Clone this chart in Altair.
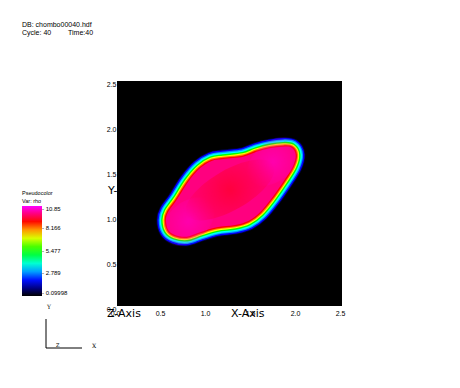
import altair as alt
import pandas as pd

# ---- data ----------------------------------------------------------------
# inner edge (pink / red boundary) of the rho blob, in axis units
inner_x = [0.544, 0.570, 0.644, 0.774, 0.922, 1.108, 1.311, 1.459, 1.589, 1.719,
           1.848, 1.952, 1.986, 1.941, 1.848, 1.700, 1.552, 1.403, 1.181, 1.052,
           0.922, 0.792, 0.663, 0.570]
inner_y = [0.956, 0.844, 0.789, 0.770, 0.819, 0.874, 0.900, 0.944, 1.041, 1.197,
           1.381, 1.548, 1.678, 1.759, 1.770, 1.752, 1.714, 1.659, 1.633, 1.611,
           1.530, 1.381, 1.178, 1.048]

# rho of the falloff bands around the blob (outer -> inner) and their stroke widths
rim_rho = [0.6, 1.9, 3.0, 3.7, 5.48, 7.27, 8.2, 9.06]
rim_width = [19, 17.4, 14.6, 12.4, 9.6, 6.8, 4.6, 2.6]
core_rho = 9.95
background_rho = 0.09998

# colour table (VisIt-like): value stops and colours
stop_values = [0.09998, 1.89, 3.68, 5.477, 7.27, 9.06, 10.85]
stop_colors = ["#000000", "#0000ff", "#00ffff", "#00ff00", "#ffff00", "#ff0000", "#ff00ff"]
tick_values = [0.09998, 2.789, 5.477, 8.166, 10.85]
axis_ticks = [0.0, 0.5, 1.0, 1.5, 2.0, 2.5]

# internal shading spots: centre (red) and the two ends (magenta)
spot_x = [1.256, 0.792, 1.737]
spot_y = [1.289, 0.937, 1.604]

FONT = "Liberation Sans"

xs = alt.Scale(domain=[0, 2.5], nice=False, zero=False)
ys = alt.Scale(domain=[0, 2.5], nice=False, zero=False)
xaxis = alt.Axis(values=axis_ticks, format=".1f", title=None, domain=False, ticks=False,
                 grid=False, labelFontSize=7, labelFont=FONT, labelColor="#000",
                 labelPadding=3, labelOffset=-2, labelFlush=False, labelOverlap=False)
yaxis = alt.Axis(values=axis_ticks, format=".1f", title=None, domain=False, ticks=False,
                 grid=False, labelFontSize=7, labelFont=FONT, labelColor="#000",
                 labelPadding=1, labelOffset=3, labelFlush=False, labelOverlap=False)

color_scale = alt.Scale(domain=stop_values, range=stop_colors, interpolate="rgb")
legend = alt.Legend(type="gradient", orient="none", legendX=-95, legendY=110,
                    direction="vertical",
                    title=["Pseudocolor", "Var: rho"], titleFontSize=5.5, titleFont=FONT,
                    titleFontWeight="normal", titleColor="#000", titlePadding=2,
                    gradientLength=90, gradientThickness=20, gradientStrokeWidth=0,
                    values=tick_values, labelExpr="'- ' + format(datum.value, '.4')",
                    labelFontSize=6, labelFont=FONT, labelColor="#000", labelOffset=0,
                    labelOverlap=False, padding=0)

n = len(inner_x)
layers = []

def txt(t, x, y, size, font=FONT):
    return alt.Chart(pd.DataFrame({"t": [t]})).mark_text(
        align="left", baseline="middle", fontSize=size, font=font, color="black"
    ).encode(text="t:N", x=alt.value(x), y=alt.value(y))

# black plot background = the field's minimum rho over the whole domain
bg = pd.DataFrame({"x0": [0.0], "x1": [2.5], "y0": [0.0], "y1": [2.5], "rho": [background_rho]})

# axis title (Y-Axis is mostly hidden behind the black plot area)
layers.append(txt("Y-Axis", -9, 110, 11, "DejaVu Sans"))
layers.append(alt.Chart(bg).mark_rect().encode(
    x=alt.X("x0:Q", scale=xs, axis=xaxis), x2="x1:Q",
    y=alt.Y("y0:Q", scale=ys, axis=yaxis), y2="y1:Q",
    color=alt.Color("rho:Q", scale=color_scale, legend=legend)))

# rim bands
for r, w in zip(rim_rho, rim_width):
    df = pd.DataFrame({"x": inner_x, "y": inner_y, "i": list(range(n)), "rho": [r] * n})
    layers.append(
        alt.Chart(df).mark_line(interpolate="cardinal-closed", strokeWidth=w,
                                strokeJoin="round").encode(
            x=alt.X("x:Q", scale=xs, axis=xaxis),
            y=alt.Y("y:Q", scale=ys, axis=yaxis),
            order="i:Q",
            color=alt.Color("rho:Q", scale=color_scale, legend=None),
        )
    )

# core fill
core = pd.DataFrame({"x": inner_x, "y": inner_y, "i": list(range(n)), "rho": [core_rho] * n})
layers.append(
    alt.Chart(core).mark_line(interpolate="cardinal-closed", filled=True, strokeWidth=0).encode(
        x=alt.X("x:Q", scale=xs, axis=xaxis),
        y=alt.Y("y:Q", scale=ys, axis=yaxis),
        order="i:Q",
        color=alt.Color("rho:Q", scale=color_scale, legend=None),
    )
)

ELLIPSE = "M -1 0 A 1 0.4 0 1 0 1 0 A 1 0.4 0 1 0 -1 0 Z"
ELLIPSE2 = "M -1 0 A 1 0.65 0 1 0 1 0 A 1 0.65 0 1 0 -1 0 Z"

def spot(i, shape, size, angle, rgb, a0):
    grad = {"gradient": "radial", "x1": 0.5, "y1": 0.5, "r1": 0, "x2": 0.5, "y2": 0.5, "r2": 0.5,
            "stops": [{"offset": 0, "color": f"rgba({rgb},{a0})"},
                      {"offset": 0.5, "color": f"rgba({rgb},{a0 * 0.5})"},
                      {"offset": 1, "color": f"rgba({rgb},0)"}]}
    df = pd.DataFrame({"x": [spot_x[i]], "y": [spot_y[i]]})
    return alt.Chart(df).mark_point(shape=shape, size=size, angle=angle, filled=True,
                                    fill=grad, strokeWidth=0, opacity=1).encode(
        x=alt.X("x:Q", scale=xs, axis=xaxis),
        y=alt.Y("y:Q", scale=ys, axis=yaxis),
    )

layers.append(spot(1, ELLIPSE2, 3600, 320, "255,0,210", 0.55))
layers.append(spot(2, ELLIPSE2, 3600, 320, "255,0,210", 0.55))
layers.append(spot(0, ELLIPSE, 10000, 330, "255,0,40", 0.75))

# annotation texts
layers.append(txt("DB: chombo00040.hdf", -95, -56, 7))
layers.append(txt("Cycle: 40", -95, -48, 7))
layers.append(txt("Time:40", -49, -48, 7))
layers.append(txt("Z-Axis", -10, 233, 11, "DejaVu Sans"))
layers.append(txt("X-Axis", 114, 233, 11, "DejaVu Sans"))

# triad
one = pd.DataFrame({"a": [0]})
layers.append(alt.Chart(one).mark_rule(color="black", strokeWidth=1).encode(
    x=alt.value(-71), y=alt.value(238), y2=alt.value(267)))
layers.append(alt.Chart(one).mark_rule(color="black", strokeWidth=1).encode(
    x=alt.value(-71), x2=alt.value(-35), y=alt.value(267)))
layers.append(txt("Y", -70, 226, 6, "DejaVu Serif"))
layers.append(txt("Z", -61, 264, 5, "DejaVu Serif"))
layers.append(txt("X", -25, 265, 6, "DejaVu Serif"))

chart = alt.layer(*layers).resolve_legend(color="independent").properties(
    width=225, height=225, background="white",
    padding={"left": 109, "top": 73, "right": 100, "bottom": 70},
    autosize=alt.AutoSizeParams(type="none"),
).configure_view(stroke=None)

chart.save("out.html", embed_options={"renderer": "svg", "actions": False})
